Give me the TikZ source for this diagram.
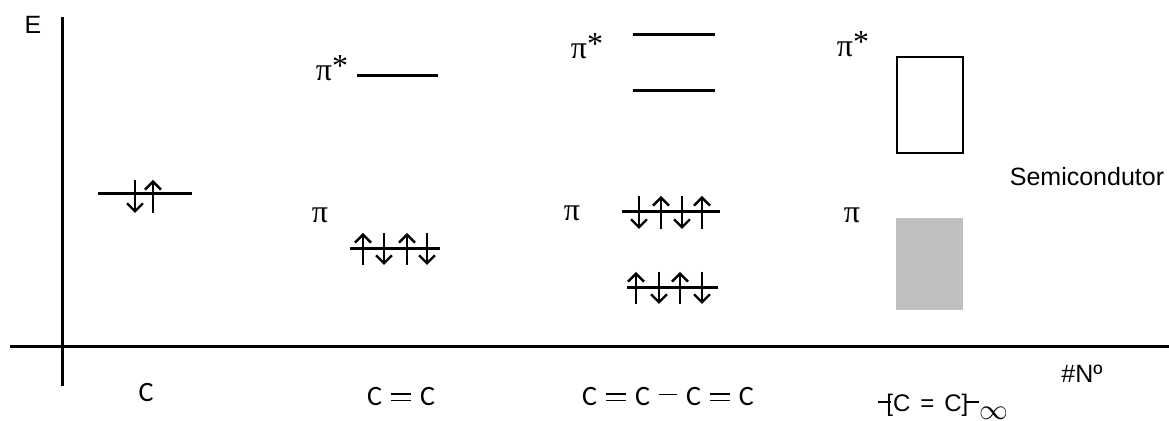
\documentclass[tikz,border=0pt]{standalone}
\usepackage{fontspec}
\setmainfont{Liberation Sans}
\newfontfamily\greekfont{Liberation Serif}
\newfontfamily\molfont{Carlito}
\usetikzlibrary{arrows.meta}
\newcommand{\dbond}{\kern4.5pt\rlap{\rule[2.4pt]{10pt}{0.8pt}}\rule[5.6pt]{10pt}{0.8pt}\kern4.5pt}
\newcommand{\sbond}{\kern4.5pt\rule[5.3pt]{9pt}{0.8pt}\kern4.5pt}
\newcommand{\chainend}{\rule[4.6pt]{6.5pt}{0.7pt}}
\tikzset{
  axis/.style={line width=1.5pt,black},
  level/.style={line width=1.5pt,black},
  spinup/.style={-{Straight Barb[length=4pt,width=8pt]},line width=1.2pt},
  spindown/.style={-{Straight Barb[length=4pt,width=8pt]},line width=1.2pt},
  orb/.style={font=\greekfont\fontsize{16}{18}\selectfont,inner sep=0pt},
  mol/.style={font=\molfont\fontsize{14}{16}\selectfont,inner sep=0pt},
  lbl/.style={font=\fontsize{12.5}{14}\selectfont,inner sep=0pt}
}
\begin{document}
\begin{tikzpicture}[x=0.5pt,y=-0.5pt]
  \useasboundingbox (0,0) rectangle (1169,421);
  % axes
  \draw[axis] (62,17) -- (62,386);
  \draw[axis] (10,347) -- (1169,347);
  \node[lbl] (elabel) at (33,25) {E};
  \node[lbl] (nlabel) at (1082,374) {\#Nº};

  % C
  \draw[level] (98,194) -- (192,194);
  \draw[spindown] (135,180) -- (135,213);
  \draw[spinup] (153,213) -- (153,180);
  \node[mol] (cat) at (146,393) {C};

  % C=C
  \node[orb] (pistarA) at (332,68) {π\raisebox{2pt}{*}};
  \draw[level] (357,76) -- (438,76);
  \node[orb] (piA) at (320,215) {π};
  \draw[level] (350,249) -- (440,249);
  \foreach \x in {363,407} \draw[spinup] (\x,265) -- (\x,233);
  \foreach \x in {384,427} \draw[spindown] (\x,233) -- (\x,265);
  \node[mol] (ethene) at (401,397) {C\dbond C};

  % C=C-C=C
  \node[orb] (pistarB) at (587,46) {π\raisebox{2pt}{*}};
  \draw[level] (633,35) -- (715,35);
  \draw[level] (633,91) -- (715,91);
  \node[orb] (piB) at (572,213) {π};
  \draw[level] (622,212) -- (720,212);
  \foreach \x in {639,682} \draw[spindown] (\x,196) -- (\x,229);
  \foreach \x in {661,702} \draw[spinup] (\x,229) -- (\x,196);
  \draw[level] (627,288) -- (718,288);
  \foreach \x in {636,680} \draw[spinup] (\x,304) -- (\x,272);
  \foreach \x in {659,702} \draw[spindown] (\x,272) -- (\x,304);
  \node[mol] (butadiene) at (668,397) {C\dbond C\sbond C\dbond C};

  % polymer
  \node[orb] (pistarC) at (853,44) {π\raisebox{2pt}{*}};
  \draw[line width=1.2pt] (897,57) rectangle (963,153);
  \node[orb] (piC) at (852,215) {π};
  \fill[gray!50] (896,218) rectangle (963,310);
  \node[lbl] (semi) at (1087,177) {Semicondutor};
  \node[lbl,anchor=base west,font=\fontsize{12}{14}\selectfont] (polymer) at (878,412)
    {\chainend\kern-2.5pt[C\hspace{5pt}=\hspace{5pt}C]\kern-1pt\chainend\raisebox{-4pt}{\fontsize{14}{14}\selectfont$\infty$}};
\end{tikzpicture}
\end{document}
